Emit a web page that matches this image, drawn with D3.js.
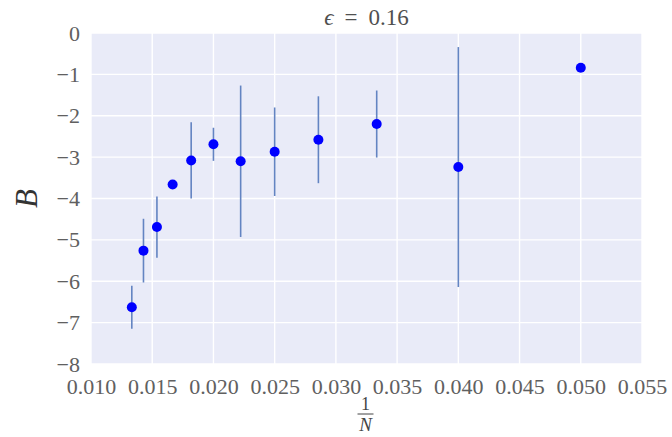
<!DOCTYPE html>
<html>
<head>
<meta charset="utf-8">
<script src="https://cdn.jsdelivr.net/npm/d3@7/dist/d3.min.js"></script>
<style>
  html, body { margin: 0; padding: 0; background: #fff; }
  svg text { font-family: "Liberation Serif", "DejaVu Serif", serif; }
</style>
</head>
<body>
<svg id="chart" width="672" height="437"></svg>
<script>
// System sizes N; x is plotted as 1/N
const sizes = [75, 70, 65, 60, 55, 50, 45, 40, 35, 30, 25, 20];
// Estimated B for each size
const bValues = [-6.63, -5.26, -4.69, -3.66, -3.08, -2.69, -3.10, -2.87, -2.58, -2.20, -3.24, -0.84];
// Half-width of the error bar for each point
const bErrors = [0.52, 0.77, 0.74, 0.0, 0.92, 0.40, 1.83, 1.07, 1.05, 0.81, 2.90, 0.0];

const xTicks = [0.010, 0.015, 0.020, 0.025, 0.030, 0.035, 0.040, 0.045, 0.050, 0.055];
const yTicks = [0, -1, -2, -3, -4, -5, -6, -7, -8];
const epsilonValue = "0.16";

const points = sizes.map((n, i) => ({ x: 1 / n, y: bValues[i], e: bErrors[i] }));

const margin = { left: 91, top: 33, right: 30, bottom: 73 };
const W = 672, H = 437;
const svg = d3.select("#chart");

const x = d3.scaleLinear().domain([0.010, 0.055]).range([margin.left, W - margin.right]);
const y = d3.scaleLinear().domain([-8, 0]).range([H - margin.bottom, margin.top]);

// Plot background
svg.append("rect")
  .attr("x", x.range()[0]).attr("y", y.range()[1])
  .attr("width", x.range()[1] - x.range()[0])
  .attr("height", y.range()[0] - y.range()[1])
  .attr("fill", "#E9EBF8");

// White grid lines
const grid = svg.append("g").attr("stroke", "#fff").attr("stroke-width", 1.4);
grid.selectAll(".gx").data(xTicks).join("line")
  .attr("x1", d => x(d)).attr("x2", d => x(d))
  .attr("y1", y.range()[1]).attr("y2", y.range()[0]);
grid.selectAll(".gy").data(yTicks).join("line")
  .attr("y1", d => y(d)).attr("y2", d => y(d))
  .attr("x1", x.range()[0]).attr("x2", x.range()[1]);

const fmtMinus = v => (v < 0 ? "\u2212" + Math.abs(v) : String(v));

// Axes (tick labels only, seaborn style)
const xAxis = d3.axisBottom(x).tickValues(xTicks).tickFormat(d3.format(".3f")).tickSize(0).tickPadding(14);
const gx = svg.append("g").attr("transform", `translate(0,${y.range()[0]})`).call(xAxis);
gx.select(".domain").remove();
gx.selectAll("text").attr("font-size", 22).attr("fill", "#606060");

const yAxis = d3.axisLeft(y).tickValues(yTicks).tickFormat(fmtMinus).tickSize(0).tickPadding(11);
const gy = svg.append("g").attr("transform", `translate(${x.range()[0]},0)`).call(yAxis);
gy.select(".domain").remove();
gy.selectAll("text").attr("font-size", 22).attr("fill", "#606060");

// Error bars
svg.append("g").selectAll("line").data(points.filter(p => p.e > 0)).join("line")
  .attr("x1", d => x(d.x)).attr("x2", d => x(d.x))
  .attr("y1", d => y(d.y + d.e)).attr("y2", d => y(d.y - d.e))
  .attr("stroke", "#6384c2").attr("stroke-width", 1.6);

// Points
svg.append("g").selectAll("circle").data(points).join("circle")
  .attr("cx", d => x(d.x)).attr("cy", d => y(d.y)).attr("r", 5)
  .attr("fill", "#0000ff");

// Title with math-style spacing
const cx = (x.range()[0] + x.range()[1]) / 2;
const title = svg.append("text").attr("x", cx).attr("y", 25).attr("text-anchor", "middle")
  .attr("font-size", 23).attr("fill", "#505050");
title.append("tspan").attr("font-style", "italic").text("\u03F5");
title.append("tspan").attr("dx", 11).text("=");
title.append("tspan").attr("dx", 11).text(epsilonValue);

// Y label
svg.append("text")
  .attr("transform", `translate(37,${(y.range()[0] + y.range()[1]) / 2}) rotate(-90)`)
  .attr("text-anchor", "middle").attr("font-size", 31).attr("font-style", "italic")
  .attr("fill", "#333").text("B");

// X label: fraction 1/N
const fx = cx - 1;
svg.append("text").attr("x", fx).attr("y", 410).attr("text-anchor", "middle")
  .attr("font-size", 18).attr("fill", "#444").text("1");
svg.append("line").attr("x1", fx - 8).attr("x2", fx + 8).attr("y1", 414).attr("y2", 414)
  .attr("stroke", "#444").attr("stroke-width", 1);
svg.append("text").attr("x", fx).attr("y", 431).attr("text-anchor", "middle")
  .attr("font-size", 19).attr("font-style", "italic").attr("fill", "#444").text("N");
</script>
</body>
</html>
